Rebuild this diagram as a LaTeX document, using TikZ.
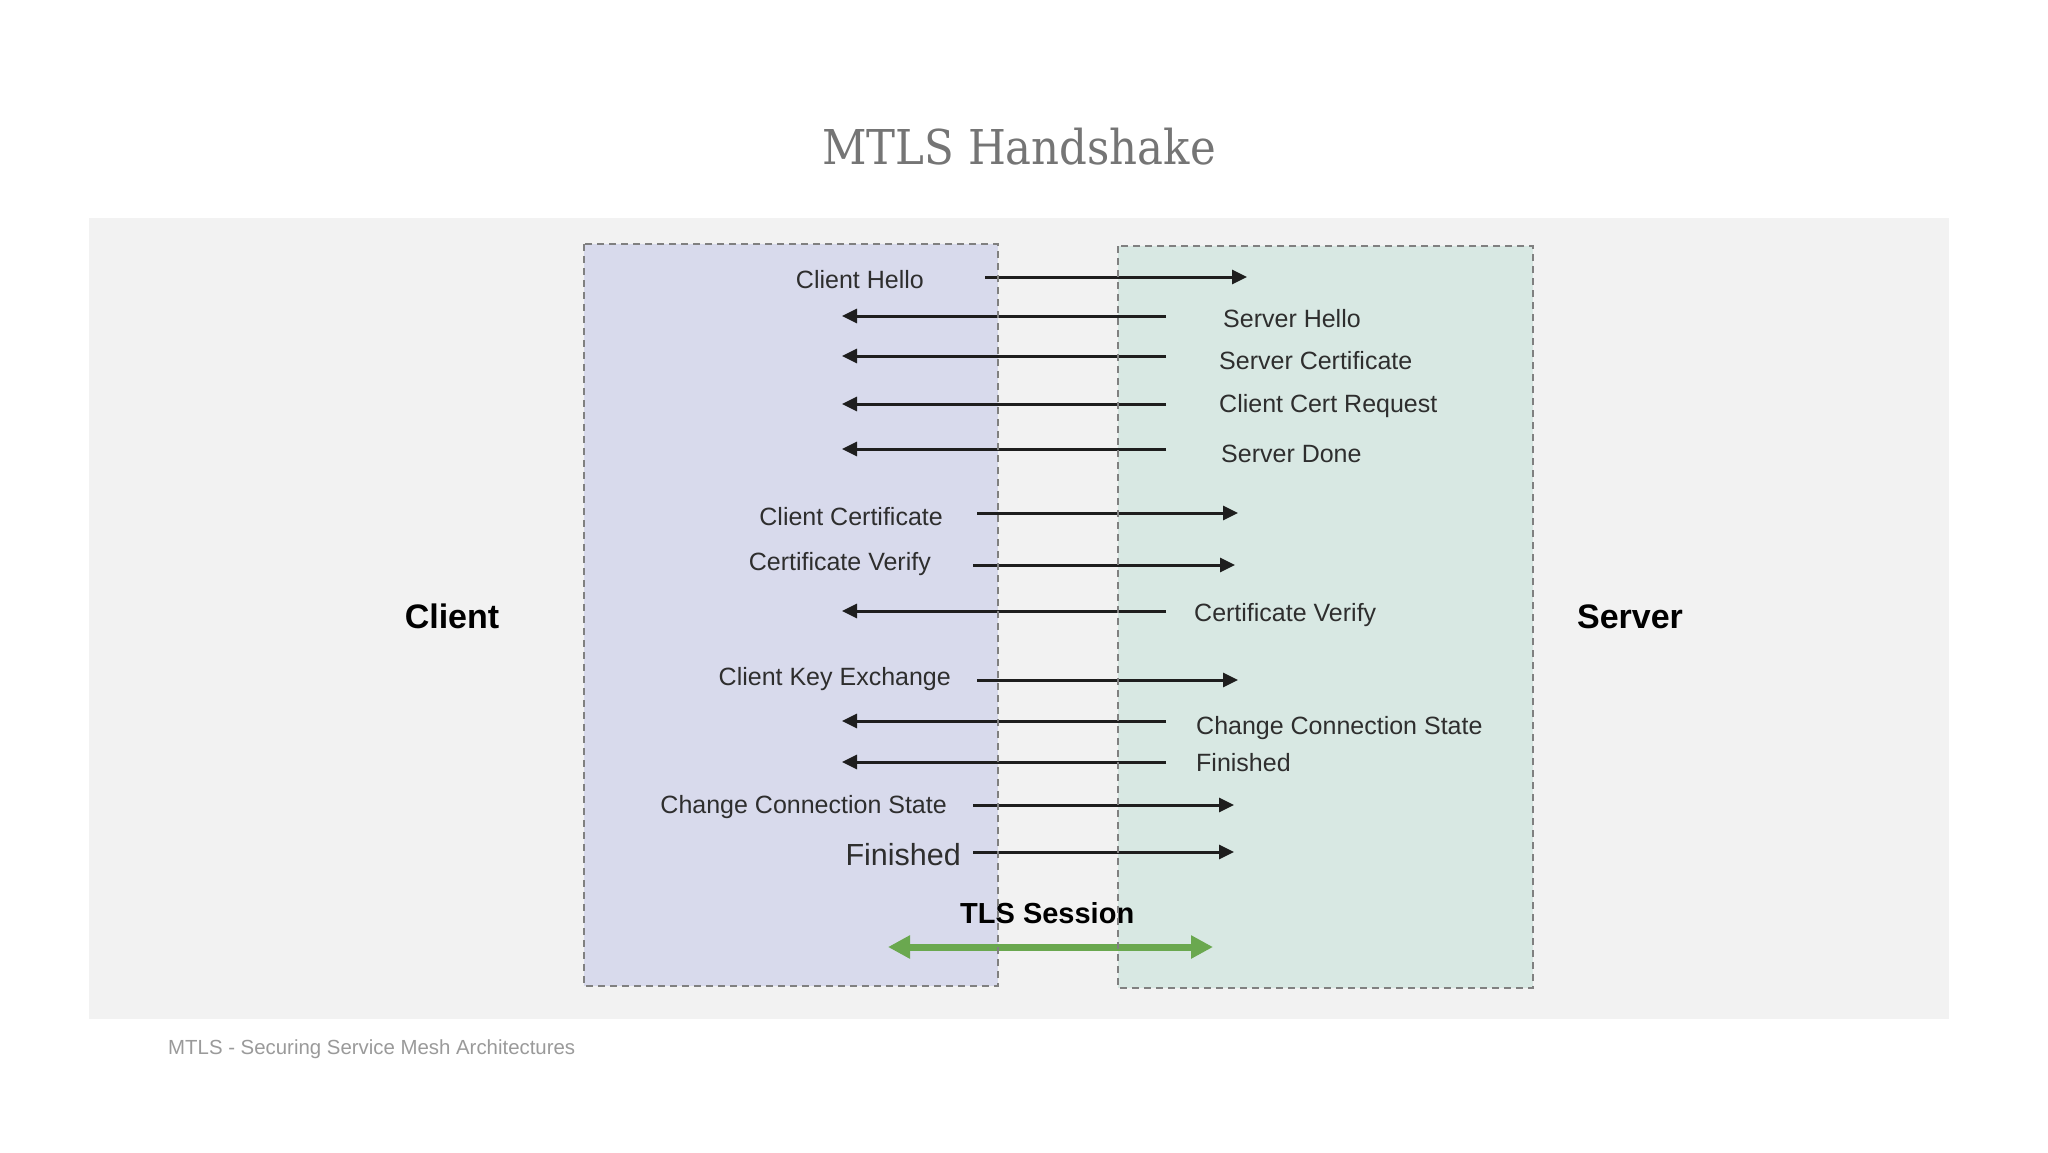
\documentclass[tikz,border=0pt]{standalone}
\usepackage{fontspec}
\usepackage{graphicx}
\setmainfont{Liberation Sans}
\newfontfamily\titlefont{DejaVu Serif}
\usetikzlibrary{arrows.meta}
\definecolor{panelc}{HTML}{F2F2F2}
\definecolor{leftfill}{HTML}{D8DAEC}
\definecolor{rightfill}{HTML}{D8E8E3}
\definecolor{borderc}{HTML}{808080}
\definecolor{labelc}{HTML}{2E2E2E}
\definecolor{arrowc}{HTML}{1E1E1E}
\definecolor{titlec}{HTML}{757575}
\definecolor{footc}{HTML}{9A9A9A}
\definecolor{greenc}{HTML}{6AA84F}
\tikzset{
  clientlbl/.style={anchor=base east, inner sep=0pt, text=labelc, font=\fontsize{25}{30}\selectfont},
  serverlbl/.style={anchor=base west, inner sep=0pt, text=labelc, font=\fontsize{25}{30}\selectfont},
  msgarrow/.style={draw=arrowc, line width=3pt, -{Triangle[length=15pt,width=14pt]}},
  boxborder/.style={draw=borderc, line width=1.6pt, dash pattern=on 7pt off 5pt},
  sidelbl/.style={anchor=base, inner sep=0pt, text=black, font=\fontsize{34}{40}\selectfont\bfseries},
}
\begin{document}
\begin{tikzpicture}[x=1pt,y=-1pt]
\useasboundingbox (0,0) rectangle (2048,1152);
\fill[white] (0,0) rectangle (2048,1152);
% panel
\fill[panelc] (89,218) rectangle (1949,1019);
% boxes
\fill[leftfill] (584,244) rectangle (998,986);
\fill[rightfill] (1118,246) rectangle (1533,988);

% title
\node[anchor=base, inner sep=0pt, text=titlec] (title) at (1019,164)
  {\titlefont\fontsize{48}{56}\selectfont\scalebox{0.905}[1]{MTLS Handshake}};

% side labels
\node[sidelbl] (client) at (452,628) {Client};
\node[sidelbl] (server) at (1630,628) {Server};

% client labels
\node[clientlbl] (cHello) at (924,288) {Client Hello};
\node[clientlbl] (cCert) at (943,525) {Client Certificate};
\node[clientlbl] (cVerify) at (931,570) {Certificate Verify};
\node[clientlbl] (cKey) at (951,685) {Client Key Exchange};
\node[clientlbl] (cChange) at (947,813) {Change Connection State};
\node[clientlbl, font=\fontsize{30.5}{36}\selectfont] (cFin) at (961,865) {Finished};

% server labels
\node[serverlbl] (sHello) at (1223,327) {Server Hello};
\node[serverlbl] (sCert) at (1219,369) {Server Certificate};
\node[serverlbl] (sReq) at (1219,412) {Client Cert Request};
\node[serverlbl] (sDone) at (1221,462) {Server Done};
\node[serverlbl] (sVerify) at (1194,621) {Certificate Verify};
\node[serverlbl] (sChange) at (1196,734) {Change Connection State};
\node[serverlbl] (sFin) at (1196,771) {Finished};

% arrow end points
\coordinate (a1s) at (985,277);  \coordinate (a1e) at (1247,277);
\coordinate (b1s) at (1166,316); \coordinate (b1e) at (842,316);
\coordinate (b2s) at (1166,356); \coordinate (b2e) at (842,356);
\coordinate (b3s) at (1166,404); \coordinate (b3e) at (842,404);
\coordinate (b4s) at (1166,449); \coordinate (b4e) at (842,449);
\coordinate (a2s) at (977,513);  \coordinate (a2e) at (1238,513);
\coordinate (a3s) at (973,565);  \coordinate (a3e) at (1235,565);
\coordinate (b5s) at (1166,611); \coordinate (b5e) at (842,611);
\coordinate (a4s) at (977,680);  \coordinate (a4e) at (1238,680);
\coordinate (b6s) at (1166,721); \coordinate (b6e) at (842,721);
\coordinate (b7s) at (1166,762); \coordinate (b7e) at (842,762);
\coordinate (a5s) at (973,805);  \coordinate (a5e) at (1234,805);
\coordinate (a6s) at (973,852);  \coordinate (a6e) at (1234,852);
\coordinate (tlsL) at (888,947); \coordinate (tlsR) at (1213,947);

\draw[msgarrow] (a1s) -- (a1e);
\draw[msgarrow] (b1s) -- (b1e);
\draw[msgarrow] (b2s) -- (b2e);
\draw[msgarrow] (b3s) -- (b3e);
\draw[msgarrow] (b4s) -- (b4e);
\draw[msgarrow] (a2s) -- (a2e);
\draw[msgarrow] (a3s) -- (a3e);
\draw[msgarrow] (b5s) -- (b5e);
\draw[msgarrow] (a4s) -- (a4e);
\draw[msgarrow] (b6s) -- (b6e);
\draw[msgarrow] (b7s) -- (b7e);
\draw[msgarrow] (a5s) -- (a5e);
\draw[msgarrow] (a6s) -- (a6e);

% TLS session
\node[anchor=base west, inner sep=0pt, text=black, font=\fontsize{29}{34}\selectfont\bfseries] (tls) at (960,923) {TLS Session};
\draw[draw=greenc, line width=7pt, {Triangle[length=22pt,width=22pt]}-{Triangle[length=22pt,width=22pt]}] (tlsL) -- (tlsR);

% box borders
\draw[boxborder] (584,244) rectangle (998,986);
\draw[boxborder] (1118,246) rectangle (1533,988);

% footer
\node[anchor=base west, inner sep=0pt, text=footc, font=\fontsize{20.4}{24}\selectfont] (foot) at (168,1054) {MTLS - Securing Service Mesh Architectures};
\end{tikzpicture}
\end{document}
